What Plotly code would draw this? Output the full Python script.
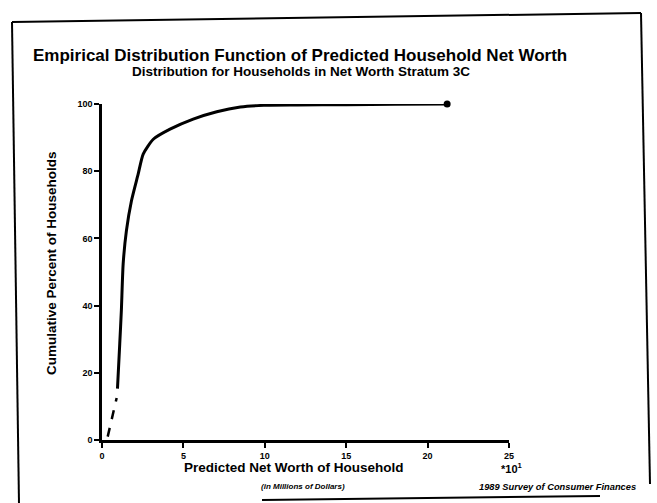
import plotly.graph_objects as go

# Data (net worth in units of 10^1 millions, cumulative percent)
solid_x = [0.95, 1.09, 1.19, 1.30, 1.50, 1.81, 2.22, 2.53, 3.15, 4.18, 5.60, 7.05, 8.50, 9.94, 12.0, 15.0, 18.0, 21.2]
solid_y = [15.3, 28.7, 38.6, 52.4, 62.3, 71.2, 79.1, 85.1, 89.5, 92.5, 95.5, 97.7, 99.1, 99.6, 99.7, 99.8, 99.9, 100.0]
dash_x = [0.35, 0.90]
dash_y = [1.0, 12.5]
end_x = [21.2]
end_y = [100.0]

x_ticks = [0, 5, 10, 15, 20, 25]
y_ticks = [0, 20, 40, 60, 80, 100]

title = "Empirical Distribution Function of Predicted Household Net Worth"
subtitle = "Distribution for Households in Net Worth Stratum 3C"
x_title = "Predicted Net Worth of Household"
y_title = "Cumulative Percent of Households"
units_note = "(in Millions of Dollars)"
source_note = "1989 Survey of Consumer Finances"
multiplier = "*10<sup>1</sup>"

W, H = 657, 503
L, R, T, B = 102, 148, 104, 63
PW = W - L - R
PH = H - T - B
FONT = "Liberation Sans, Arial, sans-serif"


def px(x):
    return (x - L) / PW


def py(y):
    return (H - B - y) / PH


fig = go.Figure()
fig.add_trace(go.Scatter(x=dash_x, y=dash_y, mode="lines",
                         line=dict(color="black", width=2.5, dash="dash"),
                         showlegend=False, cliponaxis=False))
fig.add_trace(go.Scatter(x=solid_x, y=solid_y, mode="lines",
                         line=dict(color="black", width=3, shape="spline", smoothing=0.6),
                         showlegend=False, cliponaxis=False))
fig.add_trace(go.Scatter(x=end_x, y=end_y, mode="markers",
                         marker=dict(color="black", size=7),
                         showlegend=False, cliponaxis=False))

axis_common = dict(showgrid=False, zeroline=False, showline=True, linecolor="black",
                   linewidth=2.5, ticks="outside", ticklen=5, tickwidth=2, tickcolor="black",
                   tickfont=dict(family=FONT, size=9, color="black", weight="bold"))

fig.update_xaxes(range=[0, 25], tickvals=x_ticks, ticktext=[str(v) for v in x_ticks],
                 **axis_common)
fig.update_yaxes(range=[0, 100], tickvals=y_ticks, ticktext=[str(v) for v in y_ticks],
                 **axis_common)

ann = []
ann.append(dict(text=title, x=px(300), y=py(55), xref="paper", yref="paper",
                showarrow=False, font=dict(family=FONT, size=17, color="black", weight="bold"),
                xanchor="center", yanchor="middle"))
ann.append(dict(text=subtitle, x=px(301), y=py(72), xref="paper", yref="paper",
                showarrow=False, font=dict(family=FONT, size=13.5, color="black", weight="bold"),
                xanchor="center", yanchor="middle"))
ann.append(dict(text=x_title, x=px(294), y=py(467), xref="paper", yref="paper",
                showarrow=False, font=dict(family=FONT, size=13.5, color="black", weight="bold"),
                xanchor="center", yanchor="middle"))
ann.append(dict(text=y_title, x=px(51), y=py(263), xref="paper", yref="paper", textangle=-90,
                showarrow=False, font=dict(family=FONT, size=13.5, color="black", weight="bold"),
                xanchor="center", yanchor="middle"))
ann.append(dict(text=units_note, x=px(303), y=py(486), xref="paper", yref="paper",
                showarrow=False, font=dict(family=FONT, size=8, color="black", weight="bold", style="italic"),
                xanchor="center", yanchor="middle"))
ann.append(dict(text=source_note, x=px(557), y=py(487), xref="paper", yref="paper",
                showarrow=False, font=dict(family=FONT, size=9.3, color="black", weight="bold", style="italic"),
                xanchor="center", yanchor="middle"))
ann.append(dict(text=multiplier, x=px(512), y=py(468), xref="paper", yref="paper",
                showarrow=False, font=dict(family=FONT, size=11, color="black", weight="bold"),
                xanchor="center", yanchor="middle"))

shapes = []
frame_lines = [
    ((12, 22), (19, 503)),
    ((12, 22), (641, 13)),
    ((641, 13), (650, 484)),
    ((262, 500), (600, 496)),
]
for (x0, y0), (x1, y1) in frame_lines:
    shapes.append(dict(type="line", xref="paper", yref="paper",
                       x0=px(x0), y0=py(y0), x1=px(x1), y1=py(y1),
                       line=dict(color="black", width=2)))

fig.update_layout(width=W, height=H, margin=dict(l=L, r=R, t=T, b=B),
                  paper_bgcolor="white", plot_bgcolor="white",
                  annotations=ann, shapes=shapes, showlegend=False)

fig.write_html("out.html")
